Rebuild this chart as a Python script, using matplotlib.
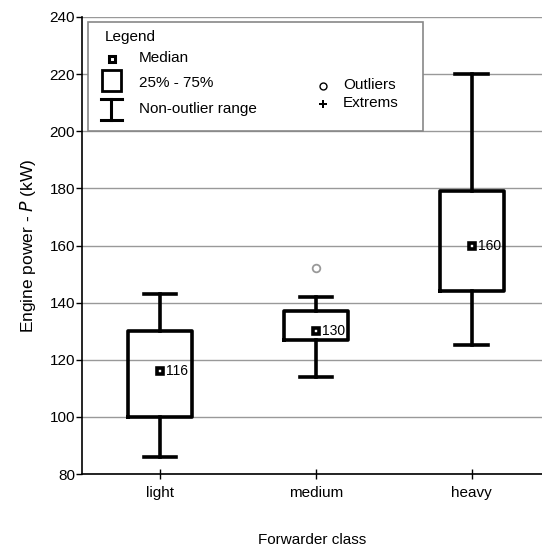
import matplotlib
matplotlib.use("Agg")
import matplotlib.pyplot as plt
from matplotlib.patches import Rectangle
from matplotlib.lines import Line2D

plt.rcParams['font.family'] = ['Liberation Sans', 'DejaVu Sans']

categories = ["light", "medium", "heavy"]
whisker_low = [86, 114, 125]
q1 = [100, 127, 144]
median = [116, 130, 160]
q3 = [130, 137, 179]
whisker_high = [143, 142, 220]
median_labels = ["116", "130", "160"]
outlier_x = [1]
outlier_y = [152]
yticks = [80, 100, 120, 140, 160, 180, 200, 220, 240]

W, H = 542, 547
fig = plt.figure(figsize=(W / 100, H / 100), dpi=100)
ax = fig.add_axes([82 / W, 1 - 474 / H, (542 - 82) / W, (474 - 17) / H])

ax.set_xlim(-0.5, 2.45)
ax.set_ylim(80, 240)

stats = []
for i in range(len(categories)):
    stats.append(dict(med=median[i], q1=q1[i], q3=q3[i],
                      whislo=whisker_low[i], whishi=whisker_high[i], fliers=[]))
ax.bxp(stats, positions=list(range(len(categories))), widths=0.41,
       showfliers=False, manage_ticks=False, zorder=3,
       boxprops=dict(color='black', linewidth=2.6),
       whiskerprops=dict(color='black', linewidth=2.6),
       capprops=dict(color='black', linewidth=2.6),
       medianprops=dict(linewidth=0),
       capwidths=0.21)

# median markers and labels
for i, m in enumerate(median):
    ax.plot(i, m, marker='s', markersize=4.8, markerfacecolor='white',
            markeredgecolor='black', markeredgewidth=2.6, zorder=5)
    ax.annotate(median_labels[i], (i, m), xytext=(4.5, 0), textcoords='offset points',
                ha='left', va='center', fontsize=10, zorder=5)

# outliers
ax.plot(outlier_x, outlier_y, linestyle='none', marker='o', markersize=5.5,
        markerfacecolor='white', markeredgecolor='#999999', markeredgewidth=1.3, zorder=4)

fs = 11
ax.set_yticks(yticks)
ax.set_yticklabels([str(v) for v in yticks], fontsize=fs)
ax.set_xticks(range(len(categories)))
ax.set_xticklabels(categories, fontsize=fs)
ax.tick_params(axis='y', direction='out', length=4, width=1, pad=1)
ax.tick_params(axis='x', direction='inout', length=7, width=1, pad=5)

ax.grid(axis='y', color='#999999', linewidth=1)
ax.set_axisbelow(True)
for s in ['top', 'right']:
    ax.spines[s].set_visible(False)
ax.spines['left'].set_linewidth(1.2)
ax.spines['bottom'].set_linewidth(1.2)

ax.set_ylabel("Engine power - $\\it{P}$ (kW)", fontsize=12.5, labelpad=8)
ax.set_xlabel("Forwarder class", fontsize=fs, labelpad=24)


# custom legend drawn in figure pixel coordinates
def px(x, y):
    return (x / W, 1 - y / H)


fig.patches.append(Rectangle(px(88, 131), (423 - 88) / W, (131 - 22) / H,
                             transform=fig.transFigure, facecolor='white',
                             edgecolor='#888888', linewidth=1.2, zorder=10))

fig.text(*px(105, 37), "Legend", fontsize=fs, va='center', ha='left', zorder=11)
fig.add_artist(Line2D([112 / W], [1 - 59 / H], marker='s', markersize=4.3,
                      markerfacecolor='white', markeredgecolor='black',
                      markeredgewidth=2.2, transform=fig.transFigure, zorder=11))
fig.text(*px(139, 58), "Median", fontsize=fs, va='center', ha='left', zorder=11)
fig.patches.append(Rectangle(px(102, 91), 19 / W, 21 / H, transform=fig.transFigure,
                             facecolor='white', edgecolor='black', linewidth=2.0, zorder=11))
fig.text(*px(139, 83), "25% - 75%", fontsize=fs, va='center', ha='left', zorder=11)
# I-bar icon
fig.add_artist(Line2D([111 / W, 111 / W], [1 - 99 / H, 1 - 120 / H], color='black',
                      linewidth=2.2, transform=fig.transFigure, zorder=11))
fig.add_artist(Line2D([101 / W, 122 / W], [1 - 99 / H, 1 - 99 / H], color='black',
                      linewidth=2.2, transform=fig.transFigure, zorder=11))
fig.add_artist(Line2D([101 / W, 122 / W], [1 - 120 / H, 1 - 120 / H], color='black',
                      linewidth=2.2, transform=fig.transFigure, zorder=11))
fig.text(*px(139, 109), "Non-outlier range", fontsize=fs, va='center', ha='left', zorder=11)
# outliers / extremes
fig.add_artist(Line2D([323 / W], [1 - 86 / H], marker='o', markersize=5,
                      markerfacecolor='white', markeredgecolor='black',
                      markeredgewidth=1.0, transform=fig.transFigure, zorder=11))
fig.text(*px(343, 85), "Outliers", fontsize=fs, va='center', ha='left', zorder=11)
fig.add_artist(Line2D([323 / W], [1 - 104 / H], marker='P', markersize=5.5,
                      color='black', markeredgewidth=0, transform=fig.transFigure, zorder=11))
fig.text(*px(343, 103), "Extrems", fontsize=fs, va='center', ha='left', zorder=11)

fig.savefig("out.png", dpi=100)
